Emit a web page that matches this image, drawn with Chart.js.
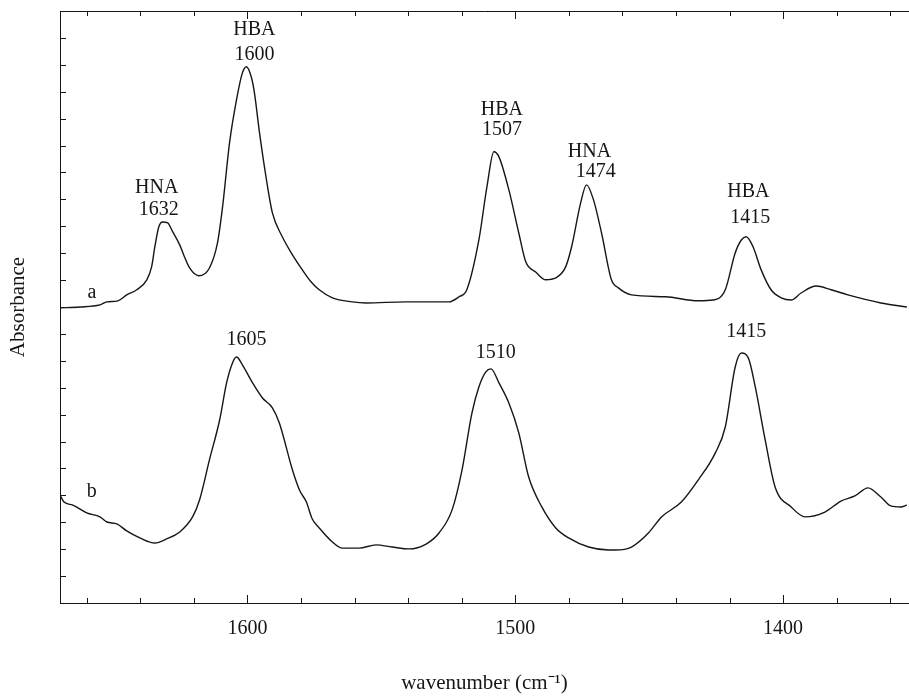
<!DOCTYPE html>
<html>
<head>
<meta charset="utf-8">
<script src="https://cdn.jsdelivr.net/npm/chart.js@4/dist/chart.umd.min.js"></script>
<style>
  html, body { margin: 0; padding: 0; background: #fff; }
  #wrap { width: 909px; height: 696px; }
</style>
</head>
<body>
<div id="wrap"><canvas id="ftir" width="909" height="696"></canvas></div>
<script>
/* IR spectra a and b: absorbance (arbitrary offset units) vs wavenumber */
var wavenumberA = [1670.0, 1662.6, 1655.1, 1652.5, 1648.4, 1645.1, 1641.3, 1637.6, 1635.8, 1634.6,
  1633.1, 1631.7, 1629.8, 1627.9, 1625.3, 1623.5, 1621.6, 1618.2, 1614.2, 1611.2,
  1609.3, 1606.7, 1604.1, 1601.9, 1600.4, 1598.5, 1597.4, 1595.5, 1592.9, 1590.7,
  1587.0, 1583.2, 1579.5, 1576.2, 1573.2, 1568.3, 1560.9, 1555.7, 1540.8, 1524.8,
  1521.0, 1518.1, 1513.6, 1510.6, 1508.0, 1506.1, 1502.4, 1498.7, 1496.1, 1492.4,
  1488.6, 1484.9, 1481.2, 1479.0, 1475.6, 1473.4, 1470.8, 1467.8, 1464.1, 1461.5,
  1456.6, 1443.9, 1431.7, 1426.1, 1421.6, 1417.9, 1415.6, 1413.8, 1411.2, 1408.2,
  1404.5, 1400.7, 1397.0, 1393.3, 1387.7, 1382.1, 1375.8, 1363.5, 1353.8];
var absorbanceA = [10.97, 11.00, 11.08, 11.19, 11.23, 11.45, 11.64, 12.01, 12.49, 13.23,
  13.98, 14.16, 14.13, 13.79, 13.31, 12.86, 12.45, 12.16, 12.45, 13.38,
  14.72, 17.10, 18.70, 19.70, 19.93, 19.52, 18.96, 17.47, 15.72, 14.50,
  13.61, 12.94, 12.38, 11.93, 11.64, 11.34, 11.19, 11.15, 11.19, 11.19,
  11.38, 11.64, 13.49, 15.46, 16.77, 16.58, 15.35, 13.75, 12.68, 12.30,
  12.01, 12.08, 12.49, 13.23, 14.87, 15.54, 14.98, 13.75, 12.01, 11.71,
  11.45, 11.38, 11.23, 11.26, 11.64, 13.01, 13.49, 13.61, 13.23, 12.38,
  11.64, 11.34, 11.26, 11.52, 11.78, 11.64, 11.45, 11.15, 11.00];

var wavenumberB = [1670.0, 1668.5, 1665.2, 1660.0, 1655.1, 1652.5, 1648.8, 1645.1, 1640.2, 1634.6,
  1630.2, 1625.3, 1620.5, 1617.9, 1614.2, 1610.4, 1607.8, 1605.6, 1604.1, 1601.9,
  1598.1, 1594.4, 1590.7, 1588.1, 1583.2, 1580.6, 1578.0, 1575.8, 1573.2, 1568.3,
  1564.6, 1558.3, 1552.0, 1546.0, 1539.7, 1533.3, 1528.5, 1523.6, 1519.9, 1516.2,
  1513.6, 1511.0, 1509.1, 1506.1, 1502.4, 1498.7, 1495.0, 1490.1, 1484.9, 1480.1,
  1472.6, 1465.2, 1462.6, 1456.6, 1450.3, 1445.4, 1438.0, 1431.7, 1425.3, 1421.6,
  1417.9, 1415.6, 1413.0, 1410.4, 1406.7, 1403.0, 1397.0, 1391.8, 1384.4, 1378.4,
  1373.2, 1368.3, 1363.5, 1359.8, 1356.1, 1353.8];
var absorbanceB = [4.01, 3.75, 3.64, 3.35, 3.20, 3.01, 2.94, 2.68, 2.42, 2.23,
  2.38, 2.64, 3.20, 3.83, 5.32, 6.80, 8.18, 8.92, 9.14, 8.85,
  8.18, 7.62, 7.25, 6.69, 4.94, 4.20, 3.75, 3.12, 2.79, 2.27,
  2.04, 2.04, 2.16, 2.08, 2.01, 2.19, 2.60, 3.46, 4.94, 7.06,
  8.03, 8.59, 8.70, 8.18, 7.43, 6.32, 4.68, 3.57, 2.79, 2.42,
  2.08, 1.97, 1.97, 2.08, 2.60, 3.20, 3.75, 4.57, 5.58, 6.54,
  8.77, 9.29, 9.11, 8.03, 6.06, 4.31, 3.57, 3.20, 3.38, 3.79,
  3.98, 4.28, 3.94, 3.61, 3.57, 3.64];

/* axis ticks */
var xTickValues = [1660, 1640, 1620, 1600, 1580, 1560, 1540, 1520, 1500, 1480, 1460, 1440, 1420, 1400, 1380, 1360];
var xTickLabels = ['1600', '1500', '1400'];
var yTickValues = [1, 2, 3, 4, 5, 6, 7, 8, 9, 10, 11, 12, 13, 14, 15, 16, 17, 18, 19, 20, 21];

/* peak annotations */
var noteText = ['HNA', '1632', 'HBA', '1600', 'HBA', '1507', 'HNA', '1474', 'HBA', '1415', 'a',
  '1605', '1510', '1415', 'b'];
var noteWavenumber = [1633.9, 1633.1, 1597.4, 1597.4, 1505.0, 1505.0, 1472.3, 1470.0, 1413.0, 1412.3, 1658.1,
  1600.4, 1507.3, 1413.8, 1658.1];
var noteAbsorbance = [15.43, 14.61, 21.30, 20.37, 18.33, 17.58, 16.77, 16.02, 15.28, 14.31, 11.52,
  9.78, 9.29, 10.07, 4.13];

var INK = '#161616';
var SERIF = "'Liberation Serif', 'Times New Roman', serif";

function toPoints(xs, ys) {
    return xs.map(function (x, i) { return { x: x, y: ys[i] }; });
}

// inward tick marks on left, bottom and top, plus the top frame line
var frameTicks = {
    id: 'frameTicks',
    afterDraw: function (chart) {
        var c = chart.ctx, a = chart.chartArea;
        var xs = chart.scales.x, ys = chart.scales.y;
        c.save();
        c.strokeStyle = INK;
        c.lineWidth = 1;
        c.beginPath();
        c.moveTo(a.left, a.top + 0.5);
        c.lineTo(a.right, a.top + 0.5);
        xs.ticks.forEach(function (t) {
            var px = Math.round(xs.getPixelForValue(t.value)) + 0.5;
            var len = (t.value % 100 === 0) ? 8 : 5;
            c.moveTo(px, a.bottom);
            c.lineTo(px, a.bottom - len);
            c.moveTo(px, a.top);
            c.lineTo(px, a.top + len);
        });
        ys.ticks.forEach(function (t) {
            var py = Math.round(ys.getPixelForValue(t.value)) + 0.5;
            c.moveTo(a.left, py);
            c.lineTo(a.left + 6, py);
        });
        c.stroke();
        c.restore();
    }
};

var peakNotes = {
    id: 'peakNotes',
    afterDatasetsDraw: function (chart) {
        var c = chart.ctx;
        var xs = chart.scales.x, ys = chart.scales.y;
        c.save();
        c.fillStyle = INK;
        c.font = '20px ' + SERIF;
        c.textAlign = 'center';
        c.textBaseline = 'middle';
        noteText.forEach(function (txt, i) {
            c.fillText(txt, xs.getPixelForValue(noteWavenumber[i]), ys.getPixelForValue(noteAbsorbance[i]));
        });
        c.restore();
    }
};

new Chart(document.getElementById('ftir'), {
    type: 'line',
    data: {
        datasets: [
            {
                label: 'a',
                data: toPoints(wavenumberA, absorbanceA),
                borderColor: INK,
                borderWidth: 1.4,
                pointRadius: 0,
                fill: false,
                cubicInterpolationMode: 'monotone'
            },
            {
                label: 'b',
                data: toPoints(wavenumberB, absorbanceB),
                borderColor: INK,
                borderWidth: 1.4,
                pointRadius: 0,
                fill: false,
                cubicInterpolationMode: 'monotone'
            }
        ]
    },
    options: {
        responsive: false,
        animation: false,
        layout: { padding: { top: 11, right: 0, left: 0, bottom: 0 } },
        plugins: {
            legend: { display: false },
            tooltip: { enabled: false }
        },
        scales: {
            x: {
                type: 'linear',
                reverse: true,
                min: 1353,
                max: 1670,
                afterBuildTicks: function (scale) {
                    scale.ticks = xTickValues.map(function (v) { return { value: v }; });
                },
                afterFit: function (scale) { scale.height = 93; },
                grid: { display: true, drawOnChartArea: false, drawTicks: false },
                border: { display: true, color: INK, width: 1 },
                ticks: {
                    autoSkip: false,
                    maxRotation: 0,
                    padding: 14,
                    color: INK,
                    font: { family: SERIF, size: 20 },
                    callback: function (value) {
                        var s = String(value);
                        return xTickLabels.indexOf(s) >= 0 ? s : '';
                    }
                },
                title: {
                    display: true,
                    text: 'wavenumber (cm\u207B\u00B9)',
                    color: INK,
                    font: { family: SERIF, size: 21 },
                    padding: { top: 0, bottom: 0 }
                }
            },
            y: {
                type: 'linear',
                min: 0,
                max: 22,
                afterBuildTicks: function (scale) {
                    scale.ticks = yTickValues.map(function (v) { return { value: v }; });
                },
                afterFit: function (scale) { scale.width = 60; },
                grid: { display: true, drawOnChartArea: false, drawTicks: false },
                border: { display: true, color: INK, width: 1 },
                ticks: { display: false },
                title: {
                    display: true,
                    text: 'Absorbance',
                    color: INK,
                    font: { family: SERIF, size: 21 },
                    padding: { top: 6, bottom: 0 }
                }
            }
        }
    },
    plugins: [frameTicks, peakNotes]
});
</script>
</body>
</html>
